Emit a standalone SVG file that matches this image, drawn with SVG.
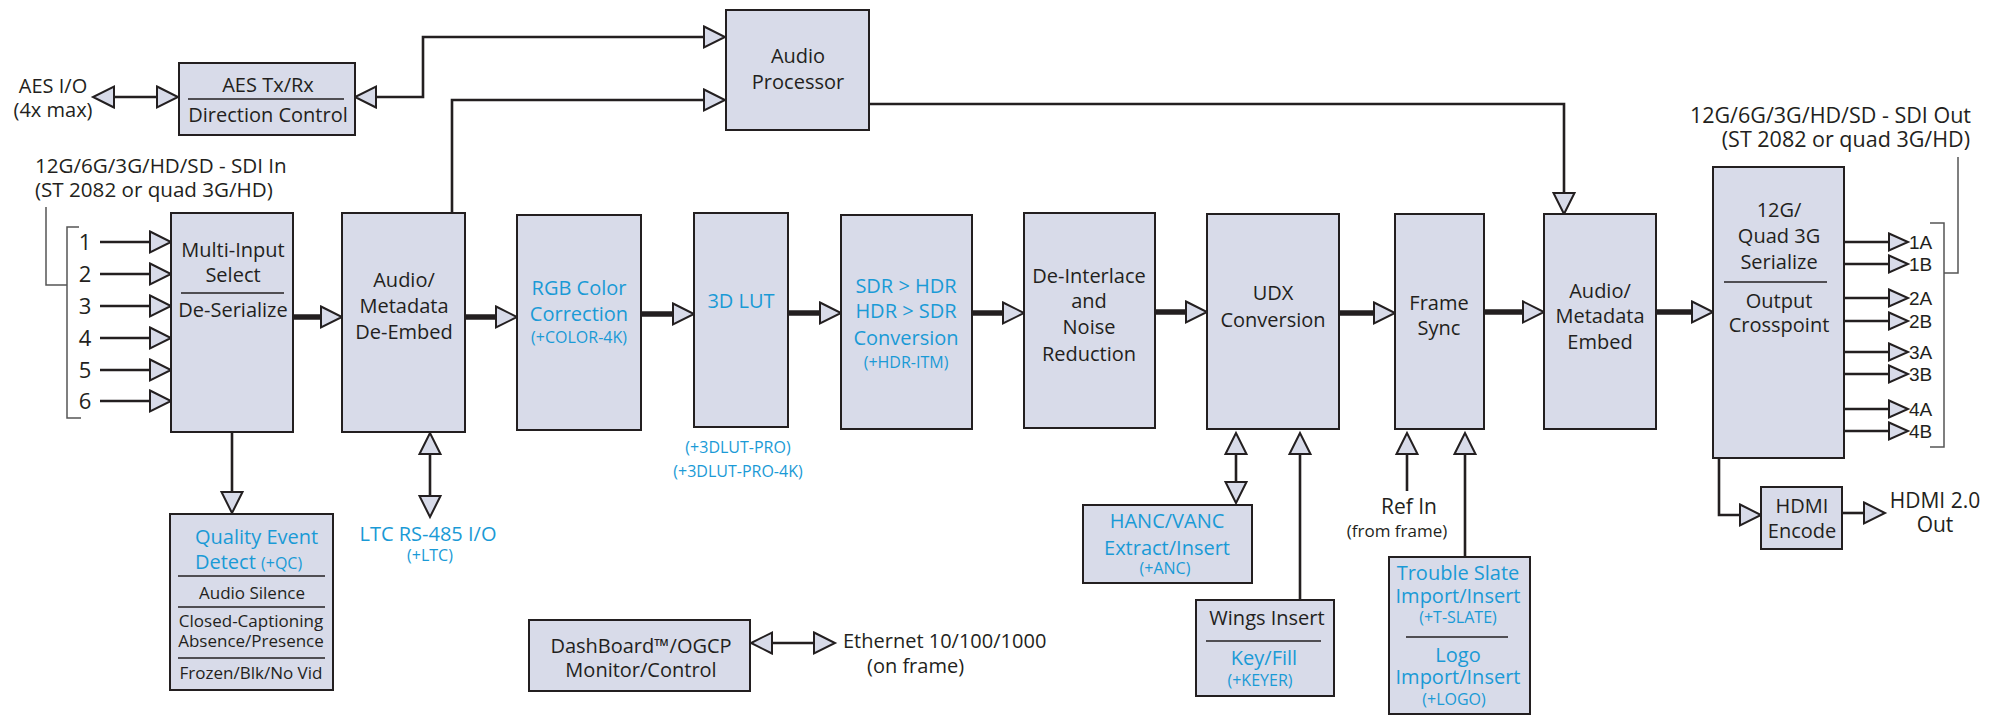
<svg xmlns="http://www.w3.org/2000/svg" width="1992" height="718" viewBox="0 0 1992 718">
<style>
  .box{fill:#d8dbe9;stroke:#231f20;stroke-width:2}
  .t{font-family:"Open Sans","Liberation Sans",sans-serif;font-size:20px;fill:#231f20;text-anchor:middle}
  .o{font-family:"Liberation Sans",sans-serif;font-size:19px}
  .b{fill:#1a9ad6}
  .s{font-size:16px}
  .q{font-size:17px}
  .n{font-size:22px}
  .l{text-anchor:start}
  .r{text-anchor:end}
  .div{stroke:#231f20;stroke-width:1.6}
  .w{fill:none;stroke:#231f20;stroke-width:2.6}
  .k{fill:none;stroke:#231f20;stroke-width:5.5}
  .br{fill:none;stroke:#555;stroke-width:1.5}
</style>
<defs>
  <marker id="a" markerUnits="userSpaceOnUse" orient="auto-start-reverse" refX="0" refY="0" markerWidth="30" markerHeight="30" overflow="visible">
    <path d="M0,-10.5 L21,0 L0,10.5 Z" fill="#d8dbe9" stroke="#231f20" stroke-width="2"/>
  </marker>
  <marker id="m" markerUnits="userSpaceOnUse" orient="auto-start-reverse" refX="0" refY="0" markerWidth="30" markerHeight="30" overflow="visible">
    <path d="M0,-8.5 L19,0 L0,8.5 Z" fill="#d8dbe9" stroke="#231f20" stroke-width="2"/>
  </marker>
</defs>

<g id="connectors">
  <line class="w" x1="114" y1="97" x2="157" y2="97" marker-start="url(#a)" marker-end="url(#a)"/>
  <path class="w" d="M376,97 H423 V37 H704" marker-start="url(#a)" marker-end="url(#a)"/>
  <path class="w" d="M452,213 V100 H704" marker-end="url(#a)"/>
  <path class="w" d="M869,104 H1564 V193" marker-end="url(#a)"/>
  <line class="w" x1="100" y1="242" x2="150" y2="242" marker-end="url(#a)"/>
  <line class="w" x1="100" y1="274" x2="150" y2="274" marker-end="url(#a)"/>
  <line class="w" x1="100" y1="306" x2="150" y2="306" marker-end="url(#a)"/>
  <line class="w" x1="100" y1="338" x2="150" y2="338" marker-end="url(#a)"/>
  <line class="w" x1="100" y1="370" x2="150" y2="370" marker-end="url(#a)"/>
  <line class="w" x1="100" y1="401" x2="150" y2="401" marker-end="url(#a)"/>
  <line class="k" x1="293" y1="317" x2="321" y2="317" marker-end="url(#a)"/>
  <line class="k" x1="465" y1="317" x2="496" y2="317" marker-end="url(#a)"/>
  <line class="k" x1="641" y1="314" x2="673" y2="314" marker-end="url(#a)"/>
  <line class="k" x1="788" y1="313" x2="820" y2="313" marker-end="url(#a)"/>
  <line class="k" x1="972" y1="313" x2="1003" y2="313" marker-end="url(#a)"/>
  <line class="k" x1="1155" y1="312" x2="1186" y2="312" marker-end="url(#a)"/>
  <line class="k" x1="1339" y1="313" x2="1374" y2="313" marker-end="url(#a)"/>
  <line class="k" x1="1484" y1="312" x2="1523" y2="312" marker-end="url(#a)"/>
  <line class="k" x1="1656" y1="312" x2="1692" y2="312" marker-end="url(#a)"/>
  <line class="w" x1="232" y1="432" x2="232" y2="492" marker-end="url(#a)"/>
  <line class="w" x1="430" y1="454" x2="430" y2="496" marker-start="url(#a)" marker-end="url(#a)"/>
  <line class="w" x1="1236" y1="454" x2="1236" y2="482" marker-start="url(#a)" marker-end="url(#a)"/>
  <line class="w" x1="1300" y1="600" x2="1300" y2="454" marker-end="url(#a)"/>
  <line class="w" x1="1407" y1="491" x2="1407" y2="454" marker-end="url(#a)"/>
  <line class="w" x1="1465" y1="557" x2="1465" y2="454" marker-end="url(#a)"/>
  <line class="w" x1="772" y1="643" x2="814" y2="643" marker-start="url(#a)" marker-end="url(#a)"/>
  <line class="w" x1="1844" y1="242" x2="1889" y2="242" marker-end="url(#m)"/>
  <line class="w" x1="1844" y1="264" x2="1889" y2="264" marker-end="url(#m)"/>
  <line class="w" x1="1844" y1="298" x2="1889" y2="298" marker-end="url(#m)"/>
  <line class="w" x1="1844" y1="321" x2="1889" y2="321" marker-end="url(#m)"/>
  <line class="w" x1="1844" y1="352" x2="1889" y2="352" marker-end="url(#m)"/>
  <line class="w" x1="1844" y1="374" x2="1889" y2="374" marker-end="url(#m)"/>
  <line class="w" x1="1844" y1="409" x2="1889" y2="409" marker-end="url(#m)"/>
  <line class="w" x1="1844" y1="431" x2="1889" y2="431" marker-end="url(#m)"/>
  <path class="w" d="M1719,458 V515 H1740" marker-end="url(#a)"/>
  <line class="w" x1="1842" y1="513" x2="1864" y2="513" marker-end="url(#a)"/>
  <path class="br" d="M79,227 H67 V418 H81 M67,285 H46 V207"/>
  <path class="br" d="M1930,223 H1944 V447 H1930 M1944,273 H1958 V157"/>
</g>

<g id="labels">
  <text class="t" x="53" y="93">AES I/O</text>
  <text class="t" x="53" y="117">(4x max)</text>
  <text class="t l" x="35" y="173" style="font-size:20.6px">12G/6G/3G/HD/SD - SDI In</text>
  <text class="t l" x="35" y="197" style="font-size:20.6px">(ST 2082 or quad 3G/HD)</text>
  <text class="t r" x="1971" y="123" style="font-size:21.5px">12G/6G/3G/HD/SD - SDI Out</text>
  <text class="t r" x="1970" y="147" style="font-size:21.5px">(ST 2082 or quad 3G/HD)</text>
  <text class="t n" x="85" y="250">1</text>
  <text class="t n" x="85" y="282">2</text>
  <text class="t n" x="85" y="314">3</text>
  <text class="t n" x="85" y="346">4</text>
  <text class="t n" x="85" y="378">5</text>
  <text class="t n" x="85" y="409">6</text>
  <text class="t o l" x="1909" y="249">1A</text>
  <text class="t o l" x="1909" y="271">1B</text>
  <text class="t o l" x="1909" y="305">2A</text>
  <text class="t o l" x="1909" y="328">2B</text>
  <text class="t o l" x="1909" y="359">3A</text>
  <text class="t o l" x="1909" y="381">3B</text>
  <text class="t o l" x="1909" y="416">4A</text>
  <text class="t o l" x="1909" y="438">4B</text>
  <text class="t" x="1935" y="508" style="font-size:21px">HDMI 2.0</text>
  <text class="t" x="1935" y="532" style="font-size:21px">Out</text>
  <text class="t b" x="428" y="541">LTC RS-485 I/O</text>
  <text class="t b s" x="430" y="561">(+LTC)</text>
  <text class="t b s" x="738" y="453">(+3DLUT-PRO)</text>
  <text class="t b s" x="738" y="477">(+3DLUT-PRO-4K)</text>
  <text class="t" x="1409" y="514" style="font-size:21px">Ref In</text>
  <text class="t q" x="1397" y="537">(from frame)</text>
  <text class="t l" x="843" y="648">Ethernet 10/100/1000</text>
  <text class="t l" x="867" y="673">(on frame)</text>
</g>

<g id="aes">
  <rect class="box" x="179" y="63" width="176" height="72"/>
  <line class="div" x1="188" y1="99" x2="344" y2="99"/>
  <text class="t" x="268" y="92">AES Tx/Rx</text>
  <text class="t" x="268" y="122">Direction Control</text>
</g>
<g id="audio-processor">
  <rect class="box" x="726" y="10" width="143" height="120"/>
  <text class="t" x="798" y="63">Audio</text>
  <text class="t" x="798" y="89">Processor</text>
</g>
<g id="multi-input">
  <rect class="box" x="171" y="213" width="122" height="219"/>
  <line class="div" x1="181" y1="293" x2="284" y2="293"/>
  <text class="t" x="233" y="257">Multi-Input</text>
  <text class="t" x="233" y="282">Select</text>
  <text class="t" x="233" y="317">De-Serialize</text>
</g>
<g id="de-embed">
  <rect class="box" x="342" y="213" width="123" height="219"/>
  <text class="t" x="404" y="287">Audio/</text>
  <text class="t" x="404" y="313">Metadata</text>
  <text class="t" x="404" y="339">De-Embed</text>
</g>
<g id="rgb">
  <rect class="box" x="517" y="215" width="124" height="215"/>
  <text class="t b" x="579" y="295">RGB Color</text>
  <text class="t b" x="579" y="321">Correction</text>
  <text class="t b s" x="579" y="343">(+COLOR-4K)</text>
</g>
<g id="lut">
  <rect class="box" x="694" y="213" width="94" height="214"/>
  <text class="t b" x="741" y="308">3D LUT</text>
</g>
<g id="hdr">
  <rect class="box" x="841" y="215" width="131" height="214"/>
  <text class="t b" x="906" y="293">SDR &gt; HDR</text>
  <text class="t b" x="906" y="318">HDR &gt; SDR</text>
  <text class="t b" x="906" y="345">Conversion</text>
  <text class="t b s" x="906" y="368">(+HDR-ITM)</text>
</g>
<g id="deinterlace">
  <rect class="box" x="1024" y="213" width="131" height="215"/>
  <text class="t" x="1089" y="283">De-Interlace</text>
  <text class="t" x="1089" y="308">and</text>
  <text class="t" x="1089" y="334">Noise</text>
  <text class="t" x="1089" y="361">Reduction</text>
</g>
<g id="udx">
  <rect class="box" x="1207" y="214" width="132" height="215"/>
  <text class="t" x="1273" y="300">UDX</text>
  <text class="t" x="1273" y="327">Conversion</text>
</g>
<g id="frame-sync">
  <rect class="box" x="1395" y="214" width="89" height="215"/>
  <text class="t" x="1439" y="310">Frame</text>
  <text class="t" x="1439" y="335">Sync</text>
</g>
<g id="embed">
  <rect class="box" x="1544" y="214" width="112" height="215"/>
  <text class="t" x="1600" y="298">Audio/</text>
  <text class="t" x="1600" y="323">Metadata</text>
  <text class="t" x="1600" y="349">Embed</text>
</g>
<g id="serialize">
  <rect class="box" x="1713" y="167" width="131" height="291"/>
  <line class="div" x1="1724" y1="282" x2="1827" y2="282"/>
  <text class="t" x="1779" y="217">12G/</text>
  <text class="t" x="1779" y="243">Quad 3G</text>
  <text class="t" x="1779" y="269">Serialize</text>
  <text class="t" x="1779" y="308">Output</text>
  <text class="t" x="1779" y="332">Crosspoint</text>
</g>
<g id="hdmi">
  <rect class="box" x="1761" y="487" width="81" height="62"/>
  <text class="t" x="1802" y="513">HDMI</text>
  <text class="t" x="1802" y="538">Encode</text>
</g>
<g id="qc">
  <rect class="box" x="170" y="514" width="163" height="176"/>
  <text class="t b l" x="195" y="544">Quality Event</text>
  <text class="t b l" x="195" y="569">Detect <tspan class="s">(+QC)</tspan></text>
  <line class="div" x1="178" y1="576" x2="325" y2="576"/>
  <text class="t q" x="252" y="599">Audio Silence</text>
  <line class="div" x1="178" y1="607" x2="325" y2="607"/>
  <text class="t q" x="251" y="627">Closed-Captioning</text>
  <text class="t q" x="251" y="647">Absence/Presence</text>
  <line class="div" x1="178" y1="658" x2="325" y2="658"/>
  <text class="t q" x="251" y="679">Frozen/Blk/No Vid</text>
</g>
<g id="anc">
  <rect class="box" x="1083" y="505" width="169" height="78"/>
  <text class="t b" x="1167" y="528">HANC/VANC</text>
  <text class="t b" x="1167" y="555">Extract/Insert</text>
  <text class="t b s" x="1165" y="574">(+ANC)</text>
</g>
<g id="wings">
  <rect class="box" x="1196" y="600" width="138" height="96"/>
  <text class="t" x="1267" y="625">Wings Insert</text>
  <line class="div" x1="1206" y1="641" x2="1321" y2="641"/>
  <text class="t b" x="1264" y="665">Key/Fill</text>
  <text class="t b s" x="1260" y="686">(+KEYER)</text>
</g>
<g id="slate">
  <rect class="box" x="1389" y="557" width="141" height="157"/>
  <text class="t b" x="1458" y="580">Trouble Slate</text>
  <text class="t b" x="1458" y="603">Import/Insert</text>
  <text class="t b s" x="1458" y="623">(+T-SLATE)</text>
  <line class="div" x1="1406" y1="637" x2="1508" y2="637"/>
  <text class="t b" x="1458" y="662">Logo</text>
  <text class="t b" x="1458" y="684">Import/Insert</text>
  <text class="t b s" x="1454" y="705">(+LOGO)</text>
</g>
<g id="dashboard">
  <rect class="box" x="529" y="620" width="221" height="71"/>
  <text class="t" x="641" y="653">DashBoard™/OGCP</text>
  <text class="t" x="641" y="677">Monitor/Control</text>
</g>
</svg>
